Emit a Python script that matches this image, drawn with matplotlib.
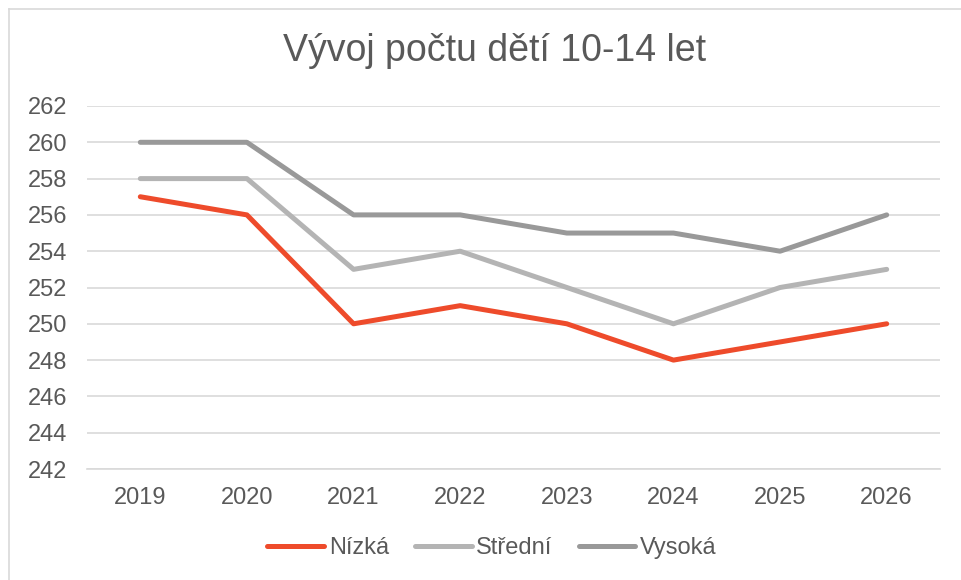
import matplotlib
matplotlib.use("Agg")
import matplotlib.pyplot as plt
from matplotlib.lines import Line2D

plt.rcParams['font.family'] = ['Liberation Sans', 'DejaVu Sans']

years = ["2019", "2020", "2021", "2022", "2023", "2024", "2025", "2026"]
nizka = [257, 256, 250, 251, 250, 248, 249, 250]
stredni = [258, 258, 253, 254, 252, 250, 252, 253]
vysoka = [260, 260, 256, 256, 255, 255, 254, 256]
series_names = ["Nízká", "Střední", "Vysoká"]
colors = ["#EE4B2B", "#B4B4B4", "#999999"]
yticks = list(range(242, 263, 2))

W, H = 961, 580
fig = plt.figure(figsize=(W / 100, H / 100), dpi=100)
ax = fig.add_axes([87 / W, 1 - 469 / H, (940 - 87) / W, (469 - 106) / H])

x = range(len(years))
for vals, name, c in zip([nizka, stredni, vysoka], series_names, colors):
    ax.plot(x, vals, color=c, lw=3.6, label=name, solid_capstyle='round',
            solid_joinstyle='round')

ax.set_xlim(-0.5, len(years) - 0.5)
ax.set_ylim(242, 262)
ax.set_yticks(yticks)
ax.set_xticks(list(x))
ax.set_xticklabels(years)
ax.grid(axis='y', color='#D9D9D9', lw=1.2)
ax.set_axisbelow(True)
for s in ['top', 'right', 'left']:
    ax.spines[s].set_visible(False)
ax.spines['bottom'].set_color('#D9D9D9')
ax.spines['bottom'].set_linewidth(1.2)
ax.tick_params(axis='both', length=0, labelsize=17, colors='#595959')
ax.tick_params(axis='y', pad=14)
ax.tick_params(axis='x', pad=13)

fig.text(495 / W, 1 - 51 / H, "Vývoj počtu dětí 10-14 let", ha='center', va='center',
         fontsize=27, color='#595959')

handles = [Line2D([], [], color=c, lw=3.6, solid_capstyle='round') for c in colors]
fig.legend(handles, series_names, loc='center', bbox_to_anchor=(492 / W, 1 - 548 / H),
           ncol=3, frameon=False, fontsize=17, handlelength=2.4, handletextpad=0.2,
           columnspacing=1.1, labelcolor='#595959')

# outer chart border (left and top visible)
fig.add_artist(Line2D([9 / W, 9 / W], [0, 1 - 9 / H], color='#D9D9D9', lw=1.2,
                      transform=fig.transFigure))
fig.add_artist(Line2D([9 / W, 1], [1 - 9 / H, 1 - 9 / H], color='#D9D9D9', lw=1.2,
                      transform=fig.transFigure))

fig.savefig("out.png", dpi=100, facecolor='white')
